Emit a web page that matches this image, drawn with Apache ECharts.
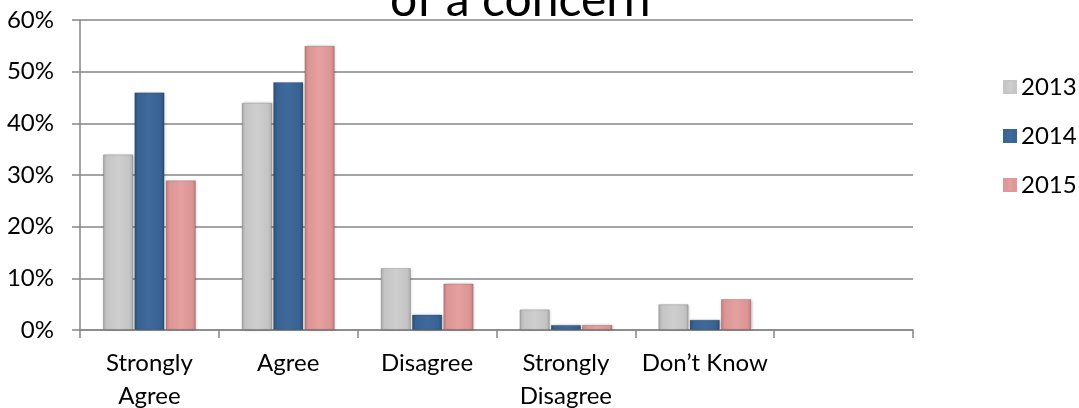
<!DOCTYPE html>
<html>
<head>
<meta charset="utf-8">
<script src="https://cdn.jsdelivr.net/npm/echarts@6/dist/echarts.min.js"></script>
<style>html,body{margin:0;padding:0;background:#fff}#c{width:1079px;height:408px}</style>
</head>
<body>
<div id="c"></div>
<script>
const categories = ['Strongly\nAgree', 'Agree', 'Disagree', 'Strongly\nDisagree', 'Don\u2019t Know', ''];
const s2013 = [34, 44, 12, 4, 5, null];
const s2014 = [46, 48, 3, 1, 2, null];
const s2015 = [29, 55, 9, 1, 6, null];
const seriesNames = ['2013', '2014', '2015'];
const yTicks = [0, 10, 20, 30, 40, 50, 60];
const titleText = 'of a concern';

const FONT = 'Lato, "Open Sans", sans-serif';
function grad(dark, mid, light) {
  return new echarts.graphic.LinearGradient(0, 0, 1, 0, [
    {offset: 0, color: dark},
    {offset: 0.12, color: mid},
    {offset: 0.5, color: light},
    {offset: 0.88, color: mid},
    {offset: 1, color: dark}
  ]);
}
const colors = [
  {base: '#c6c6c6', g: grad('#a8a8a8', '#c4c4c4', '#cfcfcf')},
  {base: '#3a6496', g: grad('#2a4a72', '#386292', '#3f6a9c')},
  {base: '#e09898', g: grad('#c07a7a', '#dc9494', '#e6a0a0')}
];
const data = [s2013, s2014, s2015];

const chart = echarts.init(document.getElementById('c'));
chart.setOption({
  animation: false,
  graphic: [{
    type: 'text', x: 390, y: 1,
    style: {text: titleText, font: '48px ' + FONT, fill: '#000', verticalAlign: 'middle', align: 'left'}
  }],
  legend: {
    orient: 'vertical', left: 1003, top: 75, itemGap: 25, padding: 0,
    itemWidth: 12, itemHeight: 12, icon: 'rect',
    textStyle: {fontSize: 24, fontFamily: FONT, color: '#000'},
    data: seriesNames.map((n, i) => ({name: n, itemStyle: {color: colors[i].g, borderColor: colors[i].base}}))
  },
  grid: {left: 80, right: 166, top: 20, bottom: 78, containLabel: false, outerBoundsMode: 'none'},
  xAxis: {
    type: 'category', data: categories,
    axisLine: {lineStyle: {color: '#868686', width: 1.5}},
    axisTick: {show: true, length: 8, lineStyle: {color: '#868686', width: 1.5}},
    axisLabel: {fontSize: 24, fontFamily: FONT, color: '#000', margin: 17, lineHeight: 33, interval: 0}
  },
  yAxis: {
    type: 'value', min: 0, max: 60, interval: 10,
    axisLine: {show: true, lineStyle: {color: '#868686', width: 1.5}},
    axisTick: {show: true, length: 8, lineStyle: {color: '#868686', width: 1.5}},
    splitLine: {lineStyle: {color: '#868686', width: 1.5}},
    axisLabel: {fontSize: 24, fontFamily: FONT, color: '#000', margin: 26,
      formatter: v => yTicks.includes(v) ? v + '%' : ''}
  },
  series: data.map((d, i) => ({
    name: seriesNames[i], type: 'bar', data: d,
    barGap: '3%', barCategoryGap: '33%',
    itemStyle: {color: colors[i].g, borderColor: 'rgba(0,0,0,0.15)', borderWidth: 1,
      shadowColor: 'rgba(0,0,0,0.25)', shadowBlur: 3, shadowOffsetX: 1}
  }))
});
</script>
</body>
</html>
